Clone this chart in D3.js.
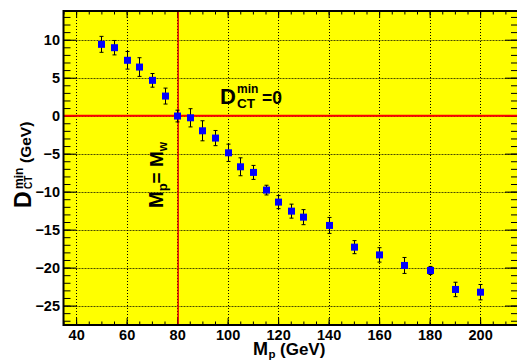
<!DOCTYPE html>
<html>
<head>
<meta charset="utf-8">
<script src="https://cdn.jsdelivr.net/npm/d3@7"></script>
<style>
  body { margin: 0; background: #fff; }
  svg { display: block; font-family: "Liberation Sans", Arial, sans-serif; font-weight: bold; }
</style>
</head>
<body>
<svg id="chart" width="517" height="360"></svg>
<script>
const mass = [50, 55, 60, 65, 70, 75, 80, 85, 90, 95, 100, 105, 110, 115, 120, 125, 130, 140, 150, 160, 170, 180, 190, 200]
const dmin = [9.39, 8.95, 7.29, 6.40, 4.65, 2.58, -0.05, -0.28, -1.99, -2.95, -4.89, -6.73, -7.47, -9.80, -11.38, -12.57, -13.36, -14.45, -17.31, -18.33, -19.72, -20.38, -22.88, -23.24]
const derr = [1.05, 0.95, 1.16, 1.23, 0.9, 1.05, 0.77, 1.2, 1.32, 1.0, 1.14, 1.18, 0.92, 0.64, 0.86, 0.92, 0.99, 1.05, 0.86, 0.95, 1.05, 0.53, 0.95, 1.01]
const xTicks = [40, 60, 80, 100, 120, 140, 160, 180, 200]
const yTicks = [10, 5, 0, -5, -10, -15, -20, -25]
const mW = 80.4

const frame = { left: 63.5, right: 518, top: 11, bottom: 325 }
const x = d3.scaleLinear().domain([35, 215]).range([frame.left, frame.right])
const y = d3.scaleLinear().domain([-27.56, 13.78]).range([frame.bottom, frame.top])

const svg = d3.select('#chart')

// pad
svg.append('rect')
    .attr('x', frame.left).attr('y', frame.top)
    .attr('width', frame.right - frame.left).attr('height', frame.bottom - frame.top)
    .attr('fill', '#ffff00')

// grid
svg.append('g').selectAll('line')
    .data(xTicks)
    .join('line')
    .attr('x1', d => Math.round(x(d)) + 0.5).attr('x2', d => Math.round(x(d)) + 0.5)
    .attr('y1', frame.top).attr('y2', frame.bottom)
    .attr('stroke', '#000').attr('stroke-width', 1).attr('stroke-dasharray', '1,2')
svg.append('g').selectAll('line')
    .data(yTicks)
    .join('line')
    .attr('x1', frame.left).attr('x2', frame.right)
    .attr('y1', d => Math.round(y(d)) + 0.5).attr('y2', d => Math.round(y(d)) + 0.5)
    .attr('stroke', '#000').attr('stroke-width', 1).attr('stroke-dasharray', '2,1').attr('opacity', 0.7)

// axes with ROOT-like inward ticks
const xMinor = d3.range(35, 216, 5)
const yMinor = d3.range(-27, 14, 1)

const bottomAxis = d3.axisBottom(x).tickValues(xTicks).tickSize(-7).tickPadding(4.5).tickFormat(d3.format('d'))
const bottomMinor = d3.axisBottom(x).tickValues(xMinor).tickSize(-3.5).tickFormat('')
const topAxis = d3.axisTop(x).tickValues(xTicks).tickSize(-7).tickFormat('')
const topMinor = d3.axisTop(x).tickValues(xMinor).tickSize(-3.5).tickFormat('')
const leftAxis = d3.axisLeft(y).tickValues(yTicks).tickSize(-13).tickPadding(3.5).tickFormat(d3.format('d'))
const leftMinor = d3.axisLeft(y).tickValues(yMinor).tickSize(-7).tickFormat('')
const rightAxis = d3.axisRight(y).tickValues(yTicks).tickSize(-13).tickFormat('')
const rightMinor = d3.axisRight(y).tickValues(yMinor).tickSize(-7).tickFormat('')

function styleAxis(g) {
    g.selectAll('.domain').remove()
    g.selectAll('.tick line').attr('stroke', '#000').attr('stroke-width', 1)
    g.selectAll('.tick text').attr('fill', '#000').attr('font-size', 14.5).attr('font-weight', 'bold')
        .attr('font-family', '"Liberation Sans", Arial, sans-serif')
}

svg.append('g').attr('transform', `translate(0,${frame.bottom})`).call(bottomMinor).call(styleAxis)
svg.append('g').attr('transform', `translate(0,${frame.bottom})`).call(bottomAxis).call(styleAxis)
svg.append('g').attr('transform', `translate(0,${frame.top})`).call(topMinor).call(styleAxis)
svg.append('g').attr('transform', `translate(0,${frame.top})`).call(topAxis).call(styleAxis)
svg.append('g').attr('transform', `translate(${frame.left},0)`).call(leftMinor).call(styleAxis)
svg.append('g').attr('transform', `translate(${frame.left},0)`).call(leftAxis).call(styleAxis)
svg.append('g').attr('transform', `translate(${frame.right},0)`).call(rightMinor).call(styleAxis)
svg.append('g').attr('transform', `translate(${frame.right},0)`).call(rightAxis).call(styleAxis)

// reference lines
svg.append('line')
    .attr('x1', frame.left).attr('x2', frame.right)
    .attr('y1', y(0)).attr('y2', y(0))
    .attr('stroke', '#ff0000').attr('stroke-width', 2)
svg.append('line')
    .attr('x1', x(mW)).attr('x2', x(mW))
    .attr('y1', frame.top).attr('y2', frame.bottom)
    .attr('stroke', '#e00000').attr('stroke-width', 1.5)

// frame
svg.append('rect')
    .attr('x', frame.left).attr('y', frame.top)
    .attr('width', frame.right - frame.left).attr('height', frame.bottom - frame.top)
    .attr('fill', 'none').attr('stroke', '#000').attr('stroke-width', 2)

// error bars
const pts = mass.map((m, i) => ({ m: m, v: dmin[i], e: derr[i] }))
const eb = svg.append('g').attr('stroke', '#000').attr('stroke-width', 1)
eb.selectAll('.v').data(pts).join('line').attr('class', 'v')
    .attr('x1', d => Math.round(x(d.m)) + 0.5).attr('x2', d => Math.round(x(d.m)) + 0.5)
    .attr('y1', d => y(d.v + d.e)).attr('y2', d => y(d.v - d.e))
eb.selectAll('.ct').data(pts).join('line').attr('class', 'ct')
    .attr('x1', d => Math.round(x(d.m)) - 1.5).attr('x2', d => Math.round(x(d.m)) + 2.5)
    .attr('y1', d => y(d.v + d.e)).attr('y2', d => y(d.v + d.e))
eb.selectAll('.cb').data(pts).join('line').attr('class', 'cb')
    .attr('x1', d => Math.round(x(d.m)) - 1.5).attr('x2', d => Math.round(x(d.m)) + 2.5)
    .attr('y1', d => y(d.v - d.e)).attr('y2', d => y(d.v - d.e))

// markers
svg.append('g').selectAll('rect')
    .data(pts)
    .join('rect')
    .attr('x', d => Math.round(x(d.m)) - 3).attr('y', d => y(d.v) - 3.5)
    .attr('width', 7).attr('height', 7)
    .attr('fill', '#0000ff')

// annotation D_CT^min = 0
const ann = svg.append('g').attr('fill', '#000')
ann.append('text').attr('x', 220).attr('y', 104).attr('font-size', 22).text('D')
ann.append('text').attr('x', 237).attr('y', 93).attr('font-size', 12).text('min')
ann.append('text').attr('x', 237).attr('y', 108).attr('font-size', 13.5).text('CT')
ann.append('text').attr('x', 262).attr('y', 104).attr('font-size', 17.5).text('=0')

// vertical annotation M_p = M_W
const vt = svg.append('text')
    .attr('transform', 'translate(163,208) rotate(-90)')
    .attr('fill', '#000')
vt.append('tspan').attr('font-size', 20).text('M')
vt.append('tspan').attr('font-size', 13).attr('dy', 4).text('p')
vt.append('tspan').attr('font-size', 19).attr('dy', -4).text('= M')
vt.append('tspan').attr('font-size', 12).attr('dy', 4).text('w')

// x axis title
const xt = svg.append('g').attr('fill', '#000')
xt.append('text').attr('x', 253).attr('y', 355).attr('font-size', 18).text('M')
xt.append('text').attr('x', 268.5).attr('y', 358).attr('font-size', 11.5).text('p')
xt.append('text').attr('x', 280).attr('y', 355).attr('font-size', 17).text('(GeV)')

// y axis title
const yt = svg.append('g')
    .attr('transform', 'translate(31,208) rotate(-90)')
    .attr('fill', '#000')
yt.append('text').attr('x', 0).attr('y', 0).attr('font-size', 23).text('D')
yt.append('text').attr('x', 19).attr('y', -8).attr('font-size', 12).text('min')
yt.append('text').attr('x', 19).attr('y', 1).attr('font-size', 10).text('CT')
yt.append('text').attr('x', 45).attr('y', 0).attr('font-size', 15.5).text('(GeV)')
</script>
</body>
</html>
